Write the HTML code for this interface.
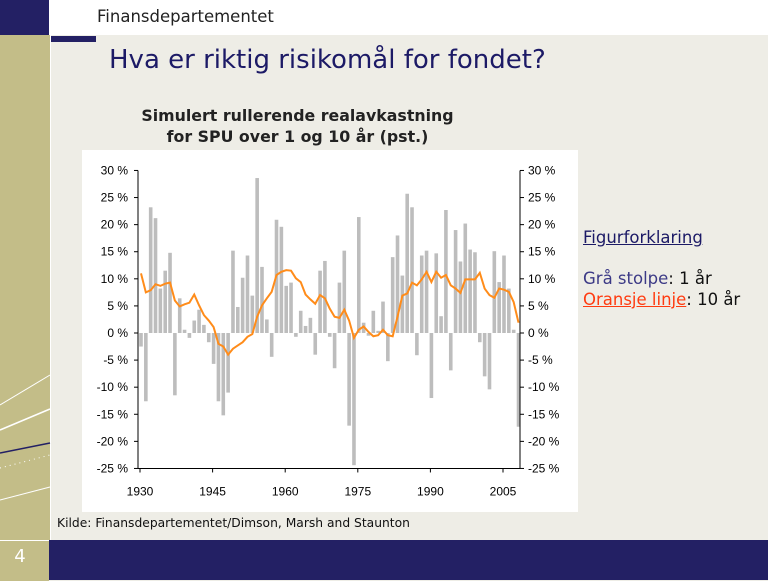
<!DOCTYPE html>
<html><head><meta charset="utf-8"><style>
body{margin:0;width:768px;height:580px;overflow:hidden;background:#eeede6;position:relative;font-family:"DejaVu Sans","Liberation Sans",sans-serif}
div{position:absolute}
</style></head><body>
<div style="left:0;top:0;width:768px;height:35px;background:#fff"></div>
<div style="left:0;top:0;width:49px;height:35px;background:#232064"></div>
<div style="left:49px;top:36px;width:47px;height:6px;background:#232064"></div>
<div style="left:0;top:35px;width:50px;height:505px;background:#c3bd88;border-right:1px solid #fff"></div>
<svg style="position:absolute;left:0;top:360px" width="51" height="180">
<path d="M0 45 L50 15" stroke="#fff" stroke-width="1" fill="none"/>
<path d="M0 70 L50 49" stroke="#fff" stroke-width="1.5" fill="none"/>
<path d="M0 93 L50 83" stroke="#232064" stroke-width="1.5" fill="none"/>
<path d="M0 108 L50 95" stroke="#fff" stroke-width="1" stroke-dasharray="1,4" fill="none"/>
<path d="M0 140 L50 127" stroke="#fff" stroke-width="1" fill="none"/>
</svg>
<div style="left:97px;top:7px;font-size:16.5px;color:#222">Finansdepartementet</div>
<div style="left:109px;top:45px;font-size:26px;color:#1c1a66">Hva er riktig risikomål for fondet?</div>
<div style="left:80px;top:105px;width:435px;text-align:center;font-size:15.8px;font-weight:bold;color:#222;line-height:21px">Simulert rullerende realavkastning<br>for SPU over 1 og 10 år (pst.)</div>
<div style="left:82px;top:150px;width:496px;height:362px;background:#fff"></div>
<svg id="chart" style="position:absolute;left:0;top:0" width="768" height="580"></svg>
<div style="left:57px;top:516px;font-size:12.3px;color:#111">Kilde: Finansdepartementet/Dimson, Marsh and Staunton</div>
<div style="left:583px;top:228px;font-size:16.5px;color:#1c1a66;text-decoration:underline">Figurforklaring</div>
<div style="left:583px;top:269px;font-size:16.5px;color:#111"><span style="color:#3c3a86">Grå stolpe</span>: 1 år</div>
<div style="left:583px;top:290px;font-size:16.5px;color:#111"><span style="color:#ff3b10;text-decoration:underline">Oransje linje</span>: 10 år</div>
<div style="left:0;top:540px;width:49px;height:40px;background:#c3bd88;border-top:1px solid #fff"></div>
<div style="left:0;top:546px;width:40px;text-align:center;font-size:18px;color:#fff">4</div>
<div style="left:49px;top:540px;width:719px;height:40px;background:#232064"></div>
<script>
const years=[];for(let y=1930;y<=2008;y++)years.push(y);
const oneYear=[-2.5,-12.6,23.2,21.2,8.2,11.5,14.8,-11.5,6.4,0.6,-0.9,2.3,4.3,1.5,-1.7,-5.7,-12.6,-15.2,-11,15.2,4.8,10.2,14.3,6.9,28.6,12.2,2.5,-4.4,20.9,19.6,8.7,9.3,-0.7,4.1,1.3,2.8,-4,11.5,13.3,-0.7,-6.5,9.3,15.2,-17.1,-24.4,21.4,1.9,-0.5,4.1,0.4,5.8,-5.2,14,18,10.6,25.7,23.2,-4.1,14.3,15.2,-12,14.7,3.1,22.7,-6.9,19,13.2,20.2,15.4,14.9,-1.7,-8,-10.4,15.1,9.4,14.3,8.2,0.6,-17.3];
const tenYear=[11,7.5,7.9,9,8.7,9.1,9.3,6,4.9,5.3,5.6,7.1,5.1,3.3,2.3,1.1,-2,-2.5,-4,-2.9,-2.3,-1.7,-0.7,-0.2,3,5.1,6.4,7.6,10.7,11.3,11.6,11.5,10.1,9.4,7.1,6.2,5.4,7,6.4,4.5,3,2.8,4.3,2.3,-0.9,0.6,1.2,0.2,-0.6,-0.4,0.6,-0.4,-0.6,3,6.9,7.3,9.3,8.8,9.9,11.3,9.4,11.3,10.2,10.7,8.8,8.2,7.4,9.9,9.9,9.9,11.1,8.2,7,6.5,8.2,8,7.6,5.7,1.9];
const yTicks=[30,25,20,15,10,5,0,-5,-10,-15,-20,-25];
const xTicks=[1930,1945,1960,1975,1990,2005];
const svg=document.getElementById('chart');const NS='http://www.w3.org/2000/svg';
const X=y=>141+(y-1930)*4.84;
const Y=v=>333-v*(298/55);
function mk(t,a){const e=document.createElementNS(NS,t);for(const k in a)e.setAttribute(k,a[k]);svg.appendChild(e);return e;}
oneYear.forEach((v,i)=>{const r=mk('rect',{x:X(years[i])-1.8,y:Math.min(Y(v),Y(0)),width:3.6,height:Math.abs(Y(v)-Y(0)),fill:'#bdbdbd'});

});
const p=mk('polyline',{points:tenYear.map((v,i)=>X(years[i])+','+Y(v)).join(' '),fill:'none',stroke:'#ff8c1a','stroke-width':2});


mk('line',{x1:138,y1:Y(30),x2:138,y2:Y(-25),stroke:'#000'});
mk('line',{x1:520,y1:Y(30),x2:520,y2:Y(-25),stroke:'#000'});
mk('line',{x1:138,y1:Y(-25),x2:520,y2:Y(-25),stroke:'#000'});
yTicks.forEach(v=>{const yy=Y(v);
mk('line',{x1:134,y1:yy,x2:138,y2:yy,stroke:'#000'});mk('line',{x1:520,y1:yy,x2:524,y2:yy,stroke:'#000'});
const a=mk('text',{x:128,y:yy+4,'text-anchor':'end','font-size':12,'font-family':'Liberation Sans, sans-serif',fill:'#000'});a.textContent=v+' %';


const b=mk('text',{x:528,y:yy+4,'font-size':12,'font-family':'Liberation Sans, sans-serif',fill:'#000'});b.textContent=v+' %';

});
xTicks.forEach(v=>{const xx=X(v)-1;mk('line',{x1:xx,y1:Y(-25),x2:xx,y2:Y(-25)+4,stroke:'#000'});
const t=mk('text',{x:xx,y:Y(-25)+27,'text-anchor':'middle','font-size':12,'font-family':'Liberation Sans, sans-serif',fill:'#000'});t.textContent=v;

});
</script>
</body></html>
